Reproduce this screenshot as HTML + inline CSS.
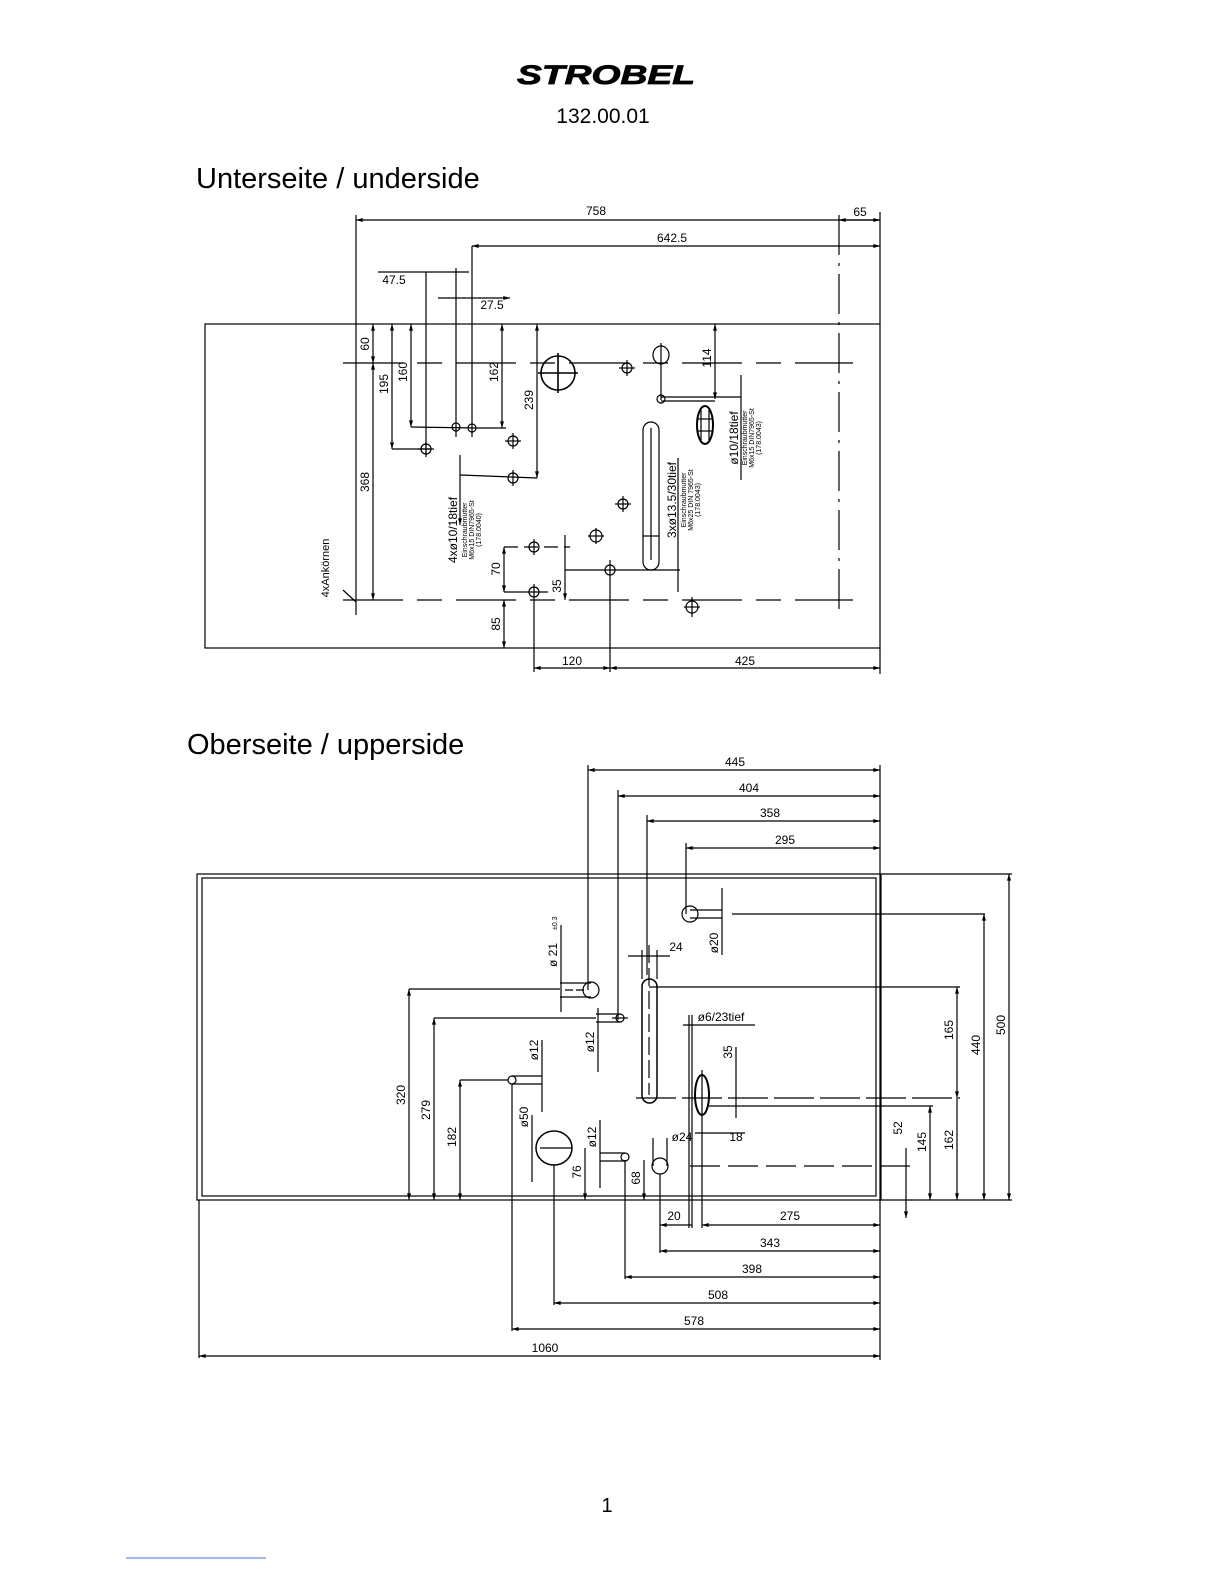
<!DOCTYPE html>
<html><head><meta charset="utf-8"><style>
html,body{margin:0;padding:0;background:#fff}
svg{display:block}
.d{font-family:"Liberation Sans Narrow","Liberation Sans",sans-serif;font-size:12px;fill:#000}
.s{font-family:"Liberation Sans Narrow","Liberation Sans",sans-serif;font-size:7px;fill:#000}
</style></head><body>
<svg width="1224" height="1584" viewBox="0 0 1224 1584" xmlns="http://www.w3.org/2000/svg">
<defs>
<marker id="a" viewBox="0 0 10 6" refX="10" refY="3" markerWidth="8" markerHeight="4" orient="auto-start-reverse" markerUnits="userSpaceOnUse"><path d="M0,0L10,3L0,6z"/></marker>
</defs>
<text x="606" y="84" text-anchor="middle" font-family="Liberation Sans,sans-serif" font-size="27" font-weight="bold" font-style="italic" stroke="#000" stroke-width="0.8" transform="translate(606 0) scale(1.38 1) translate(-606 0)">STROBEL</text>
<text x="603" y="123" text-anchor="middle" font-family="Liberation Sans,sans-serif" font-size="21">132.00.01</text>
<text x="196" y="188" font-family="Liberation Sans,sans-serif" font-size="29">Unterseite / underside</text>
<text x="187" y="754" font-family="Liberation Sans,sans-serif" font-size="29">Oberseite / upperside</text>
<text x="607" y="1512" text-anchor="middle" font-family="Liberation Sans,sans-serif" font-size="20">1</text>
<line x1="126" y1="1558" x2="266" y2="1558" stroke="#4a6fd0" stroke-width="1"/>

<g stroke="#000" stroke-width="1.2" fill="none">
<rect x="205" y="324" width="675" height="324"/>
<line x1="356" y1="220" x2="880" y2="220" marker-start="url(#a)" marker-end="url(#a)"/>
<line x1="839" y1="220" x2="880" y2="220" marker-start="url(#a)"/>
<line x1="472" y1="246" x2="880" y2="246" marker-start="url(#a)" marker-end="url(#a)"/>
<line x1="356" y1="215" x2="356" y2="615"/>
<line x1="880" y1="212" x2="880" y2="324"/>
<line x1="839" y1="215" x2="839" y2="615" stroke-dasharray="40 8 3 8"/>
<line x1="378" y1="272" x2="469" y2="272"/>
<line x1="438" y1="298" x2="510" y2="298" marker-end="url(#a)"/>
<line x1="426" y1="272" x2="426" y2="455"/>
<line x1="456" y1="268" x2="456" y2="437"/>
<line x1="472" y1="246" x2="472" y2="437"/>
<line x1="343" y1="363" x2="853" y2="363" stroke-dasharray="60 14 25 14"/>
<line x1="343" y1="600" x2="853" y2="600" stroke-dasharray="60 14 25 14"/>
<line x1="373" y1="324" x2="373" y2="363" marker-start="url(#a)" marker-end="url(#a)"/>
<line x1="373" y1="363" x2="373" y2="600" marker-start="url(#a)" marker-end="url(#a)"/>
<line x1="392" y1="324" x2="392" y2="449" marker-start="url(#a)" marker-end="url(#a)"/>
<line x1="392" y1="449" x2="430" y2="449"/>
<line x1="411" y1="324" x2="411" y2="427" marker-start="url(#a)" marker-end="url(#a)"/>
<line x1="411" y1="427" x2="476" y2="428"/>
<line x1="502" y1="324" x2="502" y2="428" marker-start="url(#a)" marker-end="url(#a)"/>
<line x1="476" y1="428" x2="506" y2="428"/>
<line x1="537" y1="324" x2="537" y2="478" marker-start="url(#a)" marker-end="url(#a)"/>
<line x1="460" y1="475" x2="537" y2="478"/>
<line x1="460" y1="455" x2="460" y2="525" marker-end="url(#a)"/>
<circle cx="456" cy="427" r="4"/><circle cx="472" cy="428" r="4"/>
<circle cx="426" cy="449" r="5"/><line x1="418" y1="449" x2="434" y2="449"/><line x1="426" y1="441" x2="426" y2="457"/>
<circle cx="513" cy="441" r="5"/><line x1="505" y1="441" x2="521" y2="441"/><line x1="513" y1="433" x2="513" y2="449"/>
<circle cx="513" cy="478" r="5"/><line x1="513" y1="470" x2="513" y2="486"/>
<ellipse cx="558" cy="373" rx="17" ry="17" stroke-width="1.6"/><line x1="538" y1="373" x2="578" y2="373" stroke-width="1.6"/><line x1="558" y1="353" x2="558" y2="393" stroke-width="1.6"/>
<circle cx="627" cy="368" r="5"/><line x1="619" y1="368" x2="635" y2="368"/><line x1="627" y1="360" x2="627" y2="376"/>
<ellipse cx="661" cy="355" rx="8" ry="9"/><line x1="661" y1="343" x2="661" y2="400"/>
<circle cx="661" cy="399" r="4"/>
<line x1="715" y1="324" x2="715" y2="399" marker-start="url(#a)" marker-end="url(#a)"/>
<line x1="661" y1="397" x2="741" y2="397"/><line x1="661" y1="401" x2="715" y2="401"/>
<line x1="741" y1="375" x2="741" y2="480"/>
<rect x="643" y="422" width="16" height="148" rx="8"/><line x1="651" y1="428" x2="651" y2="560"/><line x1="643" y1="536" x2="659" y2="536"/>
<ellipse cx="705" cy="425" rx="8" ry="19" stroke-width="2"/><line x1="701" y1="410" x2="701" y2="440"/><line x1="709" y1="410" x2="709" y2="440"/><line x1="697" y1="419" x2="713" y2="419"/><line x1="697" y1="431" x2="713" y2="431"/>
<line x1="678" y1="458" x2="678" y2="592"/>
<circle cx="623" cy="504" r="5"/><line x1="615" y1="504" x2="631" y2="504"/><line x1="623" y1="496" x2="623" y2="512"/>
<circle cx="596" cy="536" r="6"/><line x1="588" y1="536" x2="604" y2="536"/><line x1="596" y1="528" x2="596" y2="544"/>
<circle cx="534" cy="547" r="5"/><line x1="504" y1="547" x2="570" y2="547" stroke-dasharray="14 6"/><line x1="534" y1="539" x2="534" y2="555"/>
<circle cx="610" cy="570" r="5"/><line x1="565" y1="570" x2="680" y2="570"/><line x1="610" y1="560" x2="610" y2="672"/>
<circle cx="534" cy="592" r="5"/><line x1="504" y1="592" x2="548" y2="592"/><line x1="534" y1="584" x2="534" y2="672"/>
<circle cx="692" cy="607" r="6"/><line x1="684" y1="607" x2="700" y2="607"/><line x1="692" y1="597" x2="692" y2="617"/>
<line x1="504" y1="547" x2="504" y2="592" marker-start="url(#a)" marker-end="url(#a)"/>
<line x1="504" y1="600" x2="504" y2="648" marker-start="url(#a)" marker-end="url(#a)"/>
<line x1="565" y1="535" x2="565" y2="600" marker-end="url(#a)"/>
<line x1="534" y1="668" x2="610" y2="668" marker-start="url(#a)" marker-end="url(#a)"/>
<line x1="610" y1="668" x2="880" y2="668" marker-start="url(#a)" marker-end="url(#a)"/>
<line x1="880" y1="648" x2="880" y2="674"/>
<line x1="343" y1="590" x2="356" y2="602"/>

<rect x="197" y="874" width="684" height="326"/>
<rect x="202" y="878" width="674" height="318"/>
<line x1="588" y1="770" x2="880" y2="770" marker-start="url(#a)" marker-end="url(#a)"/>
<line x1="618" y1="796" x2="880" y2="796" marker-start="url(#a)" marker-end="url(#a)"/>
<line x1="647" y1="821" x2="880" y2="821" marker-start="url(#a)" marker-end="url(#a)"/>
<line x1="686" y1="848" x2="880" y2="848" marker-start="url(#a)" marker-end="url(#a)"/>
<line x1="880" y1="765" x2="880" y2="1360"/>
<line x1="588" y1="765" x2="588" y2="990"/>
<line x1="618" y1="790" x2="618" y2="1020"/>
<line x1="647" y1="815" x2="647" y2="975"/>
<line x1="686" y1="843" x2="686" y2="914"/>
<circle cx="591" cy="990" r="8"/><line x1="560" y1="983" x2="591" y2="983"/><line x1="560" y1="997" x2="591" y2="997"/><line x1="565" y1="990" x2="585" y2="990" stroke-dasharray="8 3"/>
<line x1="561" y1="925" x2="561" y2="1012"/>
<circle cx="620" cy="1018" r="4"/><line x1="596" y1="1014" x2="620" y2="1014"/><line x1="596" y1="1022" x2="620" y2="1022"/><line x1="612" y1="1018" x2="628" y2="1018"/>
<line x1="598" y1="1008" x2="598" y2="1072"/>
<rect x="642" y="979" width="15" height="124" rx="7.5" stroke-width="1.5"/>
<line x1="649" y1="945" x2="649" y2="1095" stroke-dasharray="18 5"/>
<line x1="628" y1="956" x2="670" y2="956"/><line x1="642" y1="950" x2="642" y2="979"/><line x1="657" y1="950" x2="657" y2="979"/>
<circle cx="690" cy="914" r="8"/><line x1="690" y1="910" x2="722" y2="910"/><line x1="690" y1="918" x2="722" y2="918"/>
<line x1="722" y1="888" x2="722" y2="955"/>
<line x1="732" y1="914" x2="985" y2="914"/>
<line x1="649" y1="987" x2="960" y2="987"/>
<line x1="636" y1="1098" x2="960" y2="1098" stroke-dasharray="40 6"/>
<ellipse cx="702" cy="1095" rx="7" ry="20" stroke-width="2"/><line x1="702" y1="1070" x2="702" y2="1228"/>
<line x1="689" y1="1015" x2="689" y2="1228"/><line x1="692" y1="1015" x2="692" y2="1228"/>
<line x1="683" y1="1025" x2="755" y2="1025"/>
<line x1="736" y1="1047" x2="736" y2="1118"/>
<line x1="695" y1="1133" x2="745" y2="1133"/>
<line x1="709" y1="1106" x2="933" y2="1106"/>
<circle cx="660" cy="1166" r="8"/><line x1="653" y1="1138" x2="653" y2="1166"/><line x1="667" y1="1138" x2="667" y2="1166"/>
<line x1="690" y1="1166" x2="910" y2="1166" stroke-dasharray="30 8"/>
<line x1="906" y1="1148" x2="906" y2="1218" marker-end="url(#a)"/>
<circle cx="625" cy="1157" r="4"/><line x1="600" y1="1153" x2="625" y2="1153"/><line x1="600" y1="1161" x2="625" y2="1161"/>
<line x1="600" y1="1120" x2="600" y2="1188"/>
<circle cx="512" cy="1080" r="4"/><line x1="512" y1="1076" x2="542" y2="1076"/><line x1="512" y1="1084" x2="542" y2="1084"/>
<line x1="542" y1="1040" x2="542" y2="1112"/>
<line x1="460" y1="1080" x2="508" y2="1080"/>
<ellipse cx="554" cy="1148" rx="18" ry="17" stroke-width="1.5"/><line x1="540" y1="1148" x2="572" y2="1148"/>
<line x1="532" y1="1115" x2="532" y2="1182"/>
<line x1="585" y1="1148" x2="585" y2="1200" marker-end="url(#a)"/>
<line x1="644" y1="1160" x2="644" y2="1200" marker-end="url(#a)"/>
<line x1="409" y1="989" x2="560" y2="989"/>
<line x1="409" y1="989" x2="409" y2="1200" marker-start="url(#a)" marker-end="url(#a)"/>
<line x1="434" y1="1018" x2="596" y2="1018"/>
<line x1="434" y1="1018" x2="434" y2="1200" marker-start="url(#a)" marker-end="url(#a)"/>
<line x1="460" y1="1080" x2="460" y2="1200" marker-start="url(#a)" marker-end="url(#a)"/>
<line x1="881" y1="874" x2="1012" y2="874"/><line x1="881" y1="1200" x2="1012" y2="1200"/>
<line x1="1009" y1="874" x2="1009" y2="1200" marker-start="url(#a)" marker-end="url(#a)"/>
<line x1="984" y1="914" x2="984" y2="1200" marker-start="url(#a)" marker-end="url(#a)"/>
<line x1="957" y1="987" x2="957" y2="1098" marker-start="url(#a)" marker-end="url(#a)"/>
<line x1="957" y1="1098" x2="957" y2="1200" marker-end="url(#a)"/>
<line x1="930" y1="1106" x2="930" y2="1200" marker-start="url(#a)" marker-end="url(#a)"/>
<line x1="660" y1="1225" x2="692" y2="1225" marker-start="url(#a)"/>
<line x1="702" y1="1225" x2="880" y2="1225" marker-start="url(#a)" marker-end="url(#a)"/>
<line x1="660" y1="1251" x2="880" y2="1251" marker-start="url(#a)" marker-end="url(#a)"/>
<line x1="625" y1="1277" x2="880" y2="1277" marker-start="url(#a)" marker-end="url(#a)"/>
<line x1="554" y1="1303" x2="880" y2="1303" marker-start="url(#a)" marker-end="url(#a)"/>
<line x1="512" y1="1329" x2="880" y2="1329" marker-start="url(#a)" marker-end="url(#a)"/>
<line x1="199" y1="1356" x2="880" y2="1356" marker-start="url(#a)" marker-end="url(#a)"/>
<line x1="554" y1="1165" x2="554" y2="1305"/>
<line x1="512" y1="1084" x2="512" y2="1331"/>
<line x1="625" y1="1160" x2="625" y2="1279"/>
<line x1="660" y1="1174" x2="660" y2="1253"/>
<line x1="199" y1="1200" x2="199" y2="1358"/>
</g>

<g class="d">
<text x="596" y="215" text-anchor="middle">758</text>
<text x="860" y="216" text-anchor="middle">65</text>
<text x="672" y="242" text-anchor="middle">642.5</text>
<text x="394" y="284" text-anchor="middle">47.5</text>
<text x="492" y="309" text-anchor="middle">27.5</text>
<text transform="translate(369 344) rotate(-90)" text-anchor="middle">60</text>
<text transform="translate(369 482) rotate(-90)" text-anchor="middle">368</text>
<text transform="translate(388 384) rotate(-90)" text-anchor="middle">195</text>
<text transform="translate(407 372) rotate(-90)" text-anchor="middle">160</text>
<text transform="translate(498 372) rotate(-90)" text-anchor="middle">162</text>
<text transform="translate(533 400) rotate(-90)" text-anchor="middle">239</text>
<text transform="translate(711 358) rotate(-90)" text-anchor="middle">114</text>
<text transform="translate(500 569) rotate(-90)" text-anchor="middle">70</text>
<text transform="translate(561 586) rotate(-90)" text-anchor="middle">35</text>
<text transform="translate(500 624) rotate(-90)" text-anchor="middle">85</text>
<text x="572" y="665" text-anchor="middle">120</text>
<text x="745" y="665" text-anchor="middle">425</text>
<text transform="translate(457 530) rotate(-90)" text-anchor="middle">4xø10/18tief</text>
<text transform="translate(676 500) rotate(-90)" text-anchor="middle">3xø13.5/30tief</text>
<text transform="translate(738 438) rotate(-90)" text-anchor="middle">ø10/18tief</text>
<text transform="translate(329 568) rotate(-90)" text-anchor="middle" style="font-size:11px">4xAnkörnen</text>
</g>
<g class="s">
<text transform="translate(467 530) rotate(-90)" text-anchor="middle">Einschraubmutter</text>
<text transform="translate(474 530) rotate(-90)" text-anchor="middle">M6x15 DIN7965-St</text>
<text transform="translate(481 530) rotate(-90)" text-anchor="middle">(178.0040)</text>
<text transform="translate(686 500) rotate(-90)" text-anchor="middle">Einschraubmutter</text>
<text transform="translate(693 500) rotate(-90)" text-anchor="middle">M6x25 DIN 7965-St</text>
<text transform="translate(700 500) rotate(-90)" text-anchor="middle">(178.0043)</text>
<text transform="translate(747 438) rotate(-90)" text-anchor="middle">Einschraubmutter</text>
<text transform="translate(754 438) rotate(-90)" text-anchor="middle">M6x15 DIN7965-St</text>
<text transform="translate(761 438) rotate(-90)" text-anchor="middle">(178.0043)</text>
</g>
<g class="d">
<text x="735" y="766" text-anchor="middle">445</text>
<text x="749" y="792" text-anchor="middle">404</text>
<text x="770" y="817" text-anchor="middle">358</text>
<text x="785" y="844" text-anchor="middle">295</text>
<text x="676" y="951" text-anchor="middle">24</text>
<text transform="translate(718 943) rotate(-90)" text-anchor="middle">ø20</text>
<text transform="translate(557 955) rotate(-90)" text-anchor="middle">ø 21</text>
<text transform="translate(557 930) rotate(-90)" style="font-size:7px">±0.3</text>
<text transform="translate(594 1042) rotate(-90)" text-anchor="middle">ø12</text>
<text transform="translate(538 1050) rotate(-90)" text-anchor="middle">ø12</text>
<text transform="translate(528 1117) rotate(-90)" text-anchor="middle">ø50</text>
<text transform="translate(596 1137) rotate(-90)" text-anchor="middle">ø12</text>
<text x="721" y="1021" text-anchor="middle">ø6/23tief</text>
<text transform="translate(732 1052) rotate(-90)" text-anchor="middle">35</text>
<text x="736" y="1141" text-anchor="middle">18</text>
<text x="682" y="1141" text-anchor="middle">ø24</text>
<text transform="translate(581 1172) rotate(-90)" text-anchor="middle">76</text>
<text transform="translate(640 1178) rotate(-90)" text-anchor="middle">68</text>
<text transform="translate(405 1095) rotate(-90)" text-anchor="middle">320</text>
<text transform="translate(430 1110) rotate(-90)" text-anchor="middle">279</text>
<text transform="translate(456 1137) rotate(-90)" text-anchor="middle">182</text>
<text transform="translate(1005 1025) rotate(-90)" text-anchor="middle">500</text>
<text transform="translate(980 1045) rotate(-90)" text-anchor="middle">440</text>
<text transform="translate(953 1030) rotate(-90)" text-anchor="middle">165</text>
<text transform="translate(953 1140) rotate(-90)" text-anchor="middle">162</text>
<text transform="translate(926 1142) rotate(-90)" text-anchor="middle">145</text>
<text transform="translate(902 1128) rotate(-90)" text-anchor="middle">52</text>
<text x="674" y="1220" text-anchor="middle">20</text>
<text x="790" y="1220" text-anchor="middle">275</text>
<text x="770" y="1247" text-anchor="middle">343</text>
<text x="752" y="1273" text-anchor="middle">398</text>
<text x="718" y="1299" text-anchor="middle">508</text>
<text x="694" y="1325" text-anchor="middle">578</text>
<text x="545" y="1352" text-anchor="middle">1060</text>
</g>
</svg>
</body></html>
